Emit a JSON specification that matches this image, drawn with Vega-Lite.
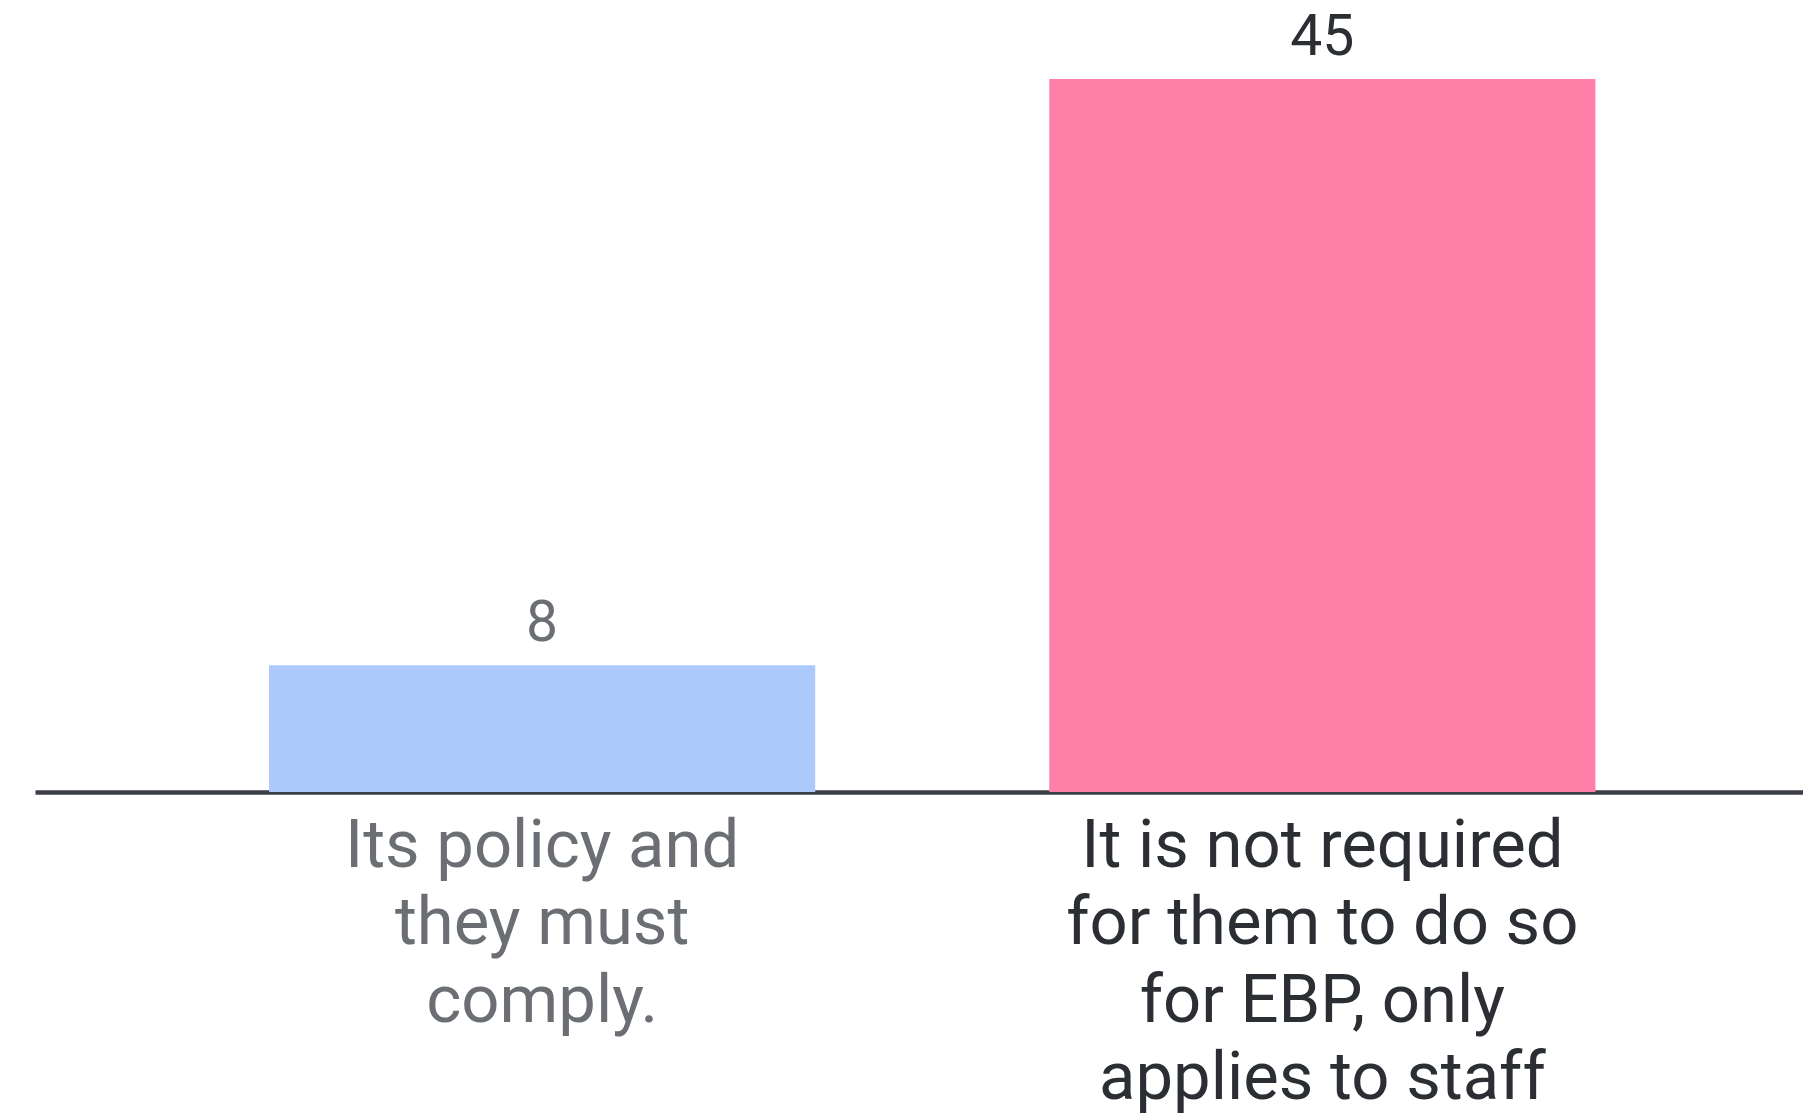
{
  "$schema": "https://vega.github.io/schema/vega-lite/v6.json",
  "width": 1768,
  "height": 713,
  "autosize": {"type": "none"},
  "padding": {"left": 35, "top": 79, "right": 0, "bottom": 321},
  "background": "white",
  "config": {"view": {"stroke": null}},
  "data": {
    "values": [
      {"answer": "Its policy and they must comply.", "count": 8},
      {"answer": "It is not required for them to do so for EBP, only applies to staff", "count": 45}
    ]
  },
  "encoding": {
    "x": {
      "field": "answer",
      "type": "nominal",
      "sort": null,
      "scale": {"paddingInner": 0.3, "paddingOuter": 0.283, "align": 0.53},
      "axis": {
        "title": null,
        "domain": true,
        "domainColor": "#3b4048",
        "domainWidth": 4.5,
        "ticks": false,
        "grid": false,
        "labelAngle": 0,
        "labelFont": "Roboto",
        "labelFontSize": 67,
        "labelLineHeight": 77.5,
        "labelBaseline": "top",
        "labelPadding": 21,
        "labelLimit": 0,
        "labelColor": {
          "condition": {"test": "datum.value == 'Its policy and they must comply.'", "value": "#6b6f74"},
          "value": "#2b2e33"
        },
        "labelExpr": "datum.value == 'Its policy and they must comply.' ? ['Its policy and', 'they must', 'comply.'] : ['It is not required', 'for them to do so', 'for EBP, only', 'applies to staff']"
      }
    },
    "y": {
      "field": "count",
      "type": "quantitative",
      "scale": {"domain": [0, 45], "nice": false},
      "axis": null
    }
  },
  "layer": [
    {
      "mark": {"type": "bar"},
      "encoding": {
        "color": {
          "field": "answer",
          "type": "nominal",
          "scale": {
            "domain": ["Its policy and they must comply.", "It is not required for them to do so for EBP, only applies to staff"],
            "range": ["#abc9fb", "#fe80a8"]
          },
          "legend": null
        }
      }
    },
    {
      "mark": {"type": "text", "baseline": "alphabetic", "dy": -24, "fontSize": 57, "font": "Roboto"},
      "encoding": {
        "text": {"field": "count", "type": "quantitative"},
        "color": {
          "condition": {"test": "datum.count == 8", "value": "#6b6f74"},
          "value": "#2b2e33"
        }
      }
    }
  ]
}
